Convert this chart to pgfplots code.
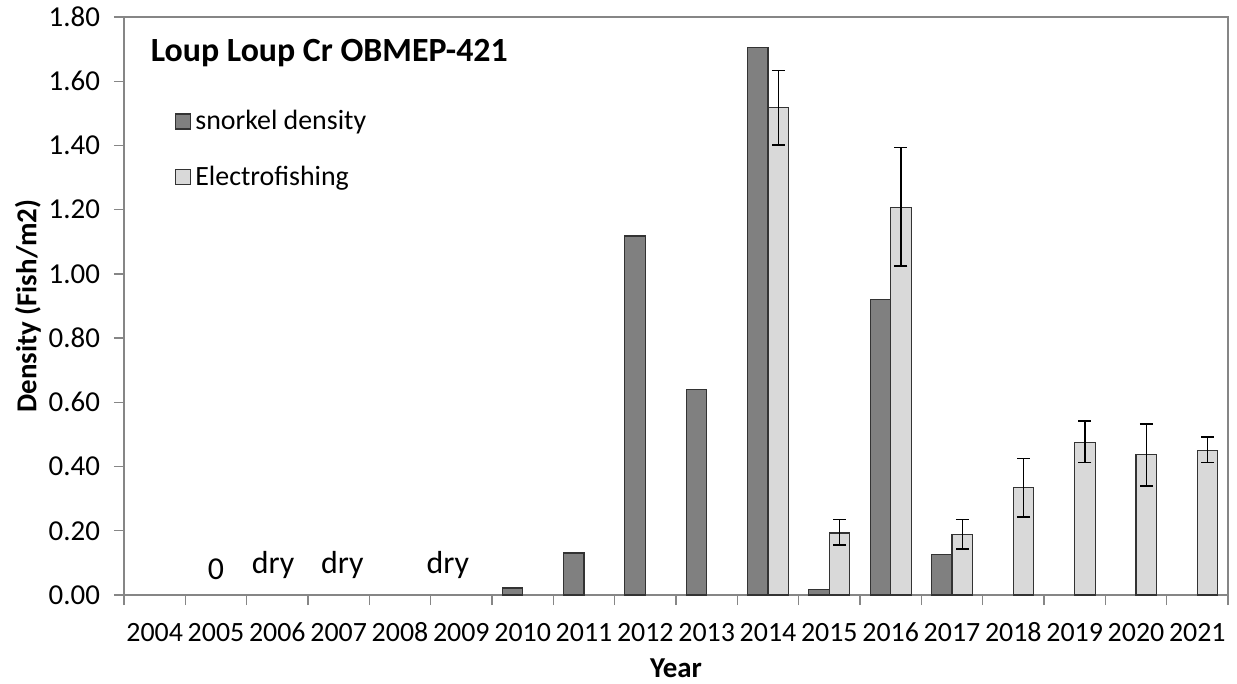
\documentclass[border=0pt]{standalone}
\usepackage{pgfplots}
\pgfplotsset{compat=1.18}
\usepackage{pgfplotstable}
\usepackage{fontspec}
\setmainfont{Carlito}

\definecolor{darkbar}{HTML}{808080}
\definecolor{lightbar}{HTML}{D9D9D9}
\definecolor{edge}{HTML}{333333}
\definecolor{axisgray}{HTML}{868686}

\pgfplotsset{sqlegend/.style={legend image code/.code={%
    \draw[##1, draw=edge, line width=0.6pt] (0bp,-3.75bp) rectangle (7.5bp,3.75bp);}}}

% snorkel density (fish/m2), x = 0 for 2004
\pgfplotstableread{
x y
6 0.022
7 0.131
8 1.118
9 0.640
10 1.704
11 0.016
12 0.921
13 0.127
}\snorkel

% electrofishing with upper/lower error
\pgfplotstableread{
x y ep em
10 1.518 0.116 0.117
11 0.193 0.042 0.037
12 1.206 0.187 0.182
13 0.189 0.046 0.046
14 0.334 0.092 0.091
15 0.476 0.066 0.063
16 0.438 0.095 0.099
17 0.451 0.041 0.038
}\electro

\begin{document}
\begin{tikzpicture}
\begin{axis}[
    scale only axis,
    width=552bp, height=289bp,
    ybar=0pt, bar width=10.25bp,
    xmin=-0.5, xmax=17.5,
    ymin=0, ymax=1.8,
    xtick={-0.5,0.5,...,17.5},
    x tick label as interval,
    xticklabels={2004,2005,2006,2007,2008,2009,2010,2011,2012,2013,2014,2015,2016,2017,2018,2019,2020,2021},
    ytick={0,0.2,0.4,0.6,0.8,1.0,1.2,1.4,1.6,1.8},
    yticklabel style={xshift=-3.5bp, font=\fontsize{14.5}{16}\selectfont, /pgf/number format/.cd, fixed, fixed zerofill, precision=2, assume math mode=true},
    xticklabel style={text height=9.5bp, text depth=0pt, yshift=-5bp, /pgf/number format/assume math mode=true},
    tick label style={font=\fontsize{14}{16}\selectfont},
    tick align=outside, tick pos=left,
    major tick length=5bp,
    axis line style={axisgray, line width=0.7pt},
    tick style={axisgray, line width=0.7pt},
    ylabel={Density (Fish/m2)},
    xlabel={Year},
    label style={font=\bfseries\fontsize{14.5}{17}\selectfont},
    ylabel style={at={(rel axis cs:-0.087,0.5)}, anchor=center},
    xlabel style={at={(rel axis cs:0.5,-0.126)}, anchor=center},
    legend style={draw=none, fill=none, at={(rel axis cs:0.046,0.846)}, anchor=north west,
        font=\fontsize{14}{16}\selectfont, row sep=12.5bp, inner sep=0pt},
    legend cell align=left,
]
\addplot[fill=darkbar, draw=edge, line width=0.6pt, sqlegend]
    table[x=x, y=y]{\snorkel};
\addlegendentry{snorkel density}
\addplot[fill=lightbar, draw=edge, line width=0.6pt, sqlegend,
    error bars/.cd, y dir=both, y explicit,
    error bar style={black, line width=0.7pt},
    error mark options={rotate=90, mark size=3.25bp, black, line width=0.7pt}]
    table[x=x, y=y, y error plus=ep, y error minus=em]{\electro};
\addlegendentry{Electrofishing}

\node[anchor=west, inner sep=0pt, font=\bfseries\fontsize{17}{20}\selectfont]
    at (rel axis cs:0.024,0.938) {Loup Loup Cr OBMEP-421};
\node[anchor=base, inner sep=0pt, font=\fontsize{16}{19}\selectfont] at (axis cs:1,0.047) {0};
\node[anchor=base, inner sep=0pt, font=\fontsize{16}{19}\selectfont] at (axis cs:1.93,0.068) {dry};
\node[anchor=base, inner sep=0pt, font=\fontsize{16}{19}\selectfont] at (axis cs:3.06,0.068) {dry};
\node[anchor=base, inner sep=0pt, font=\fontsize{16}{19}\selectfont] at (axis cs:4.78,0.068) {dry};
\end{axis}
\pgfresetboundingbox
\path[use as bounding box] (-62bp,-44.5bp) rectangle (556.5bp,297.5bp);
\end{tikzpicture}
\end{document}
